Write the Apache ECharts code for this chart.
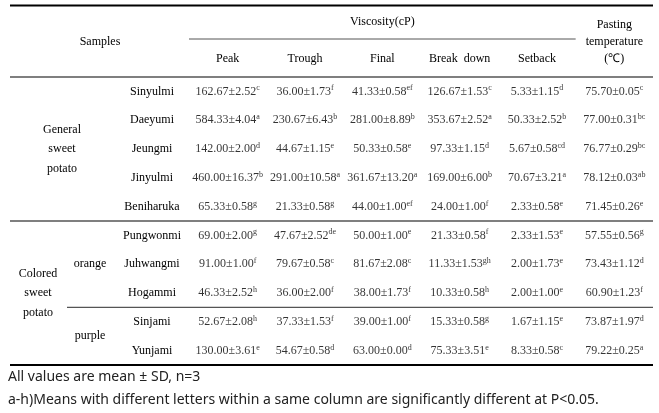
<!DOCTYPE html>
<html><head><meta charset="utf-8">
<script src="https://cdn.jsdelivr.net/npm/echarts@6/dist/echarts.min.js"></script>
<style>html,body{margin:0;padding:0;background:#fff}#c{width:659px;height:413px}</style>
</head><body><div id="c"></div>
<script>
const samples = ['Sinyulmi','Daeyumi','Jeungmi','Jinyulmi','Beniharuka','Pungwonmi','Juhwangmi','Hogammi','Sinjami','Yunjami'];
const columns = ['Peak','Trough','Final','Break  down','Setback','Pasting\ntemperature\n(\u2103)'];
const peakMean = [162.67,584.33,142.00,460.00,65.33,69.00,91.00,46.33,52.67,130.00];
const peakSD = [2.52,4.04,2.00,16.37,0.58,2.00,1.00,2.52,2.08,3.61];
const peakSig = ['c','a','d','b','g','g','f','h','h','e'];
const troughMean = [36.00,230.67,44.67,291.00,21.33,47.67,79.67,36.00,37.33,54.67];
const troughSD = [1.73,6.43,1.15,10.58,0.58,2.52,0.58,2.00,1.53,0.58];
const troughSig = ['f','b','e','a','g','de','c','f','f','d'];
const finalMean = [41.33,281.00,50.33,361.67,44.00,50.00,81.67,38.00,39.00,63.00];
const finalSD = [0.58,8.89,0.58,13.20,1.00,1.00,2.08,1.73,1.00,0.00];
const finalSig = ['ef','b','e','a','ef','e','c','f','f','d'];
const breakMean = [126.67,353.67,97.33,169.00,24.00,21.33,11.33,10.33,15.33,75.33];
const breakSD = [1.53,2.52,1.15,6.00,1.00,0.58,1.53,0.58,0.58,3.51];
const breakSig = ['c','a','d','b','f','f','gh','h','g','e'];
const setbackMean = [5.33,50.33,5.67,70.67,2.33,2.33,2.00,2.00,1.67,8.33];
const setbackSD = [1.15,2.52,0.58,3.21,0.58,1.53,1.73,1.00,1.15,0.58];
const setbackSig = ['d','b','cd','a','e','e','e','e','e','c'];
const pastingMean = [75.70,77.00,76.77,78.12,71.45,57.55,73.43,60.90,73.87,79.22];
const pastingSD = [0.05,0.31,0.29,0.03,0.26,0.56,1.12,1.23,1.97,0.25];
const pastingSig = ['c','bc','bc','ab','e','g','d','f','d','a'];
const groups = [
  {text:'General\nsweet\npotato', rows:[0,4], x:62},
  {text:'Colored\nsweet\npotato', rows:[5,9], x:38}
];
const subgroups = [
  {text:'orange', rows:[5,7], x:90},
  {text:'purple', rows:[8,9], x:90}
];
const footnotes = ['All values are mean \u00b1 SD, n=3',
  'a-h)Means with different letters within a same column are significantly different at P<0.05.'];

const SERIF = '"Liberation Serif","Times New Roman",serif';
const SANS = '"Noto Sans","DejaVu Sans",sans-serif';
const INK = '#000';
const colMeans = [peakMean,troughMean,finalMean,breakMean,setbackMean,pastingMean];
const colSD = [peakSD,troughSD,finalSD,breakSD,setbackSD,pastingSD];
const colSig = [peakSig,troughSig,finalSig,breakSig,setbackSig,pastingSig];
const cells = [];
colMeans.forEach((m,ci)=>m.forEach((v,ri)=>cells.push([ci,ri,v,colSD[ci][ri],colSig[ci][ri]])));

const chart = echarts.init(document.getElementById('c'));
const GRID = {left:189, right:6, top:77, bottom:48};
chart.setOption({
  animation:false,
  grid: GRID,
  xAxis: {type:'category', position:'top', data:columns,
    axisLine:{show:false}, axisTick:{show:false}, splitLine:{show:false},
    axisLabel:{interval:0, margin:10, fontFamily:SERIF, fontSize:12, color:INK, lineHeight:17}},
  yAxis: {type:'category', inverse:true, data:samples,
    axisLine:{show:false}, axisTick:{show:false}, splitLine:{show:false},
    axisLabel:{interval:0, margin:37, align:'center', fontFamily:SERIF, fontSize:12, color:INK}},
  series: [{
    type:'scatter', symbolSize:0, data:cells,
    label:{show:true, position:'inside', fontFamily:SERIF, fontSize:12, color:INK, lineHeight:14,
      formatter:p=>p.data[2].toFixed(2)+'\u00b1'+p.data[3].toFixed(2)+'{s|'+p.data[4]+'}',
      rich:{s:{fontFamily:SERIF, fontSize:8, color:INK, verticalAlign:'top', lineHeight:14}}}
  }]
});

function yPix(r){ return chart.convertToPixel({yAxisIndex:0}, r); }
function xPix(c){ return chart.convertToPixel({xAxisIndex:0}, c); }
const W = 659, H = 413;
const x0 = 10, x1 = W - GRID.right;
const yTop = GRID.top, yBot = H - GRID.bottom;
const sep1 = (yPix(4)+yPix(5))/2, sep2 = (yPix(7)+yPix(8))/2;
const band = xPix(1)-xPix(0);
const xv0 = GRID.left, xv1 = xPix(4) + band/2;
const xVisc = (xPix(0)+xPix(4))/2;
const line = (xa,ya,xb,yb,w,c)=>({type:'line', shape:{x1:xa,y1:ya,x2:xb,y2:yb}, style:{stroke:c, lineWidth:w}});
const txt = (x,y,t,font,size,lh,align,fill)=>({type:'text', x, y, style:{text:t, fill:fill||INK, font:size+'px '+font, align:align||'center', verticalAlign:'middle', lineHeight:lh}});
const g = [
  line(x0,5.5,x1,5.5,2,'#000'),
  line(xv0,39,xv1,39,1,'#555'),
  line(x0,yTop,x1,yTop,1.3,'#555'),
  line(x0,sep1,x1,sep1,1.3,'#555'),
  line(67,sep2,x1,sep2,1.3,'#555'),
  line(x0,yBot,x1,yBot,2,'#000'),
  txt(xVisc,22,'Viscosity(cP)',SERIF,12,14),
  txt(100,42,'Samples',SERIF,12,14)
];
groups.concat(subgroups).forEach(gr=>{
  g.push(txt(gr.x,(yPix(gr.rows[0])+yPix(gr.rows[1]))/2,gr.text,SERIF,12,19.5));
});
g.push(txt(8,377,footnotes[0],SANS,14,16,'left','#222'));
g.push(txt(8,400,footnotes[1],SANS,14,16,'left','#222'));
chart.setOption({graphic:g});
</script></body></html>
